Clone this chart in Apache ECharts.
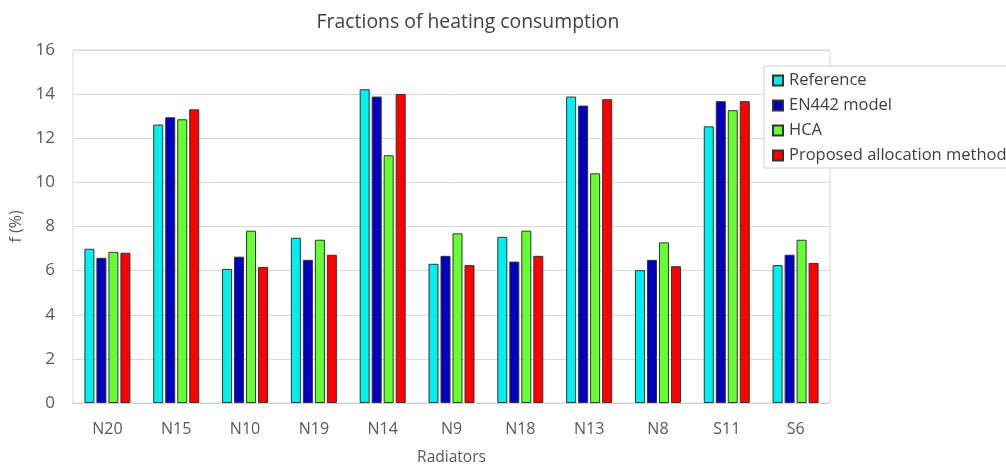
<!DOCTYPE html>
<html><head><meta charset="utf-8">
<script src="https://cdn.jsdelivr.net/npm/echarts@6/dist/echarts.min.js"></script>
<style>html,body{margin:0;padding:0;background:#fff}#c{width:1006px;height:464px}</style>
</head><body><div id="c"></div>
<script>
const categories = ['N20','N15','N10','N19','N14','N9','N18','N13','N8','S11','S6'];
const reference = [6.99,12.62,6.08,7.49,14.22,6.31,7.53,13.89,6.02,12.54,6.25];
const en442 = [6.58,12.95,6.63,6.49,13.89,6.67,6.41,13.48,6.49,13.68,6.72];
const hca = [6.85,12.86,7.81,7.40,11.23,7.69,7.81,10.41,7.28,13.27,7.40];
const proposed = [6.81,13.31,6.17,6.72,14.01,6.25,6.67,13.77,6.20,13.68,6.35];
const seriesNames = ['Reference','EN442 model','HCA','Proposed allocation method'];
const colors = ['#00f0f0','#0000c0','#66ff33','#ff0000'];
const yTicks = {min:0,max:16,interval:2};

const font = '"Open Sans", sans-serif';
const chart = echarts.init(document.getElementById('c'));
const data = [reference,en442,hca,proposed];
chart.setOption({
  animation:false,
  title:{text:'Fractions of heating consumption',left:463,textAlign:'center',top:8,
    textStyle:{fontFamily:font,fontSize:19.4,fontWeight:'normal',color:'#404040'}},
  legend:{orient:'vertical',left:764,top:66,itemWidth:10,itemHeight:10,itemGap:8,
    padding:[6,6,4,8],borderColor:'#d0d0d0',borderWidth:1,backgroundColor:'#fff',
    icon:'rect',textStyle:{fontFamily:font,fontSize:16.5,color:'#404040',padding:[0,0,0,1]},
    data:seriesNames},
  grid:{left:73,right:176,top:50,bottom:61,outerBoundsMode:'none',
    show:true,borderColor:'#d9d9d9',borderWidth:1,backgroundColor:'transparent'},
  xAxis:{type:'category',data:categories,name:'Radiators',nameLocation:'middle',nameGap:47,
    nameTextStyle:{fontFamily:font,fontSize:15.5,color:'#595959'},
    axisLine:{lineStyle:{color:'#d0d0d0'}},axisTick:{show:false},
    axisLabel:{fontFamily:font,fontSize:16,color:'#595959',margin:18}},
  yAxis:{type:'value',min:yTicks.min,max:yTicks.max,interval:yTicks.interval,
    name:'f (%)',nameLocation:'middle',nameGap:40,
    nameTextStyle:{fontFamily:font,fontSize:16,color:'#595959'},
    axisLine:{show:false},axisTick:{show:false},
    axisLabel:{fontFamily:font,fontSize:17,color:'#595959',margin:18},
    splitLine:{lineStyle:{color:'#d9d9d9'}}},
  series:data.map((d,i)=>({name:seriesNames[i],type:'bar',data:d,barWidth:10,barGap:'20%',
    itemStyle:{color:colors[i],borderColor:'#333',borderWidth:1}}))
});
</script></body></html>
